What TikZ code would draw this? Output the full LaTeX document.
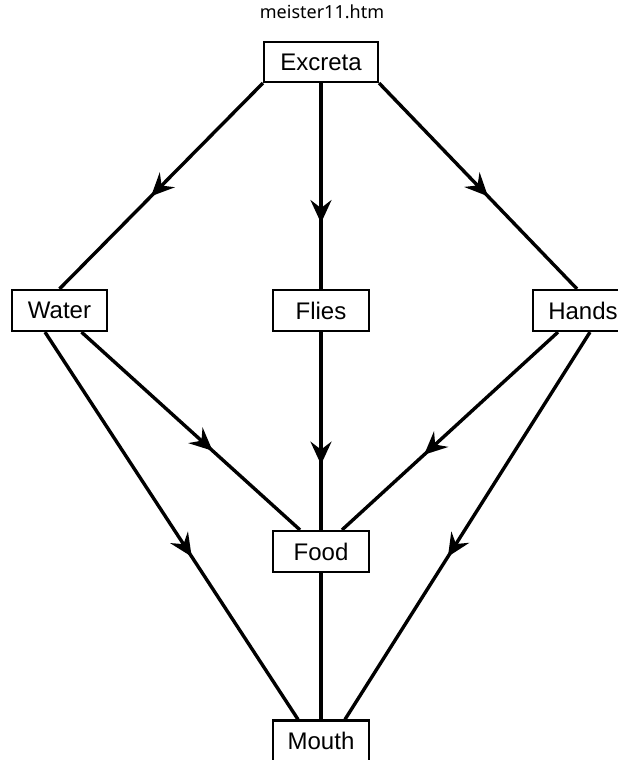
\documentclass[tikz,border=0pt]{standalone}
\usepackage{fontspec}
\setmainfont{Liberation Sans}
\newfontfamily\titlefont{Noto Sans}
\usetikzlibrary{arrows.meta,decorations.markings}
\begin{document}
\begin{tikzpicture}[x=1pt,y=-1pt,
  box/.style={draw,line width=2.2pt,rectangle,minimum height=41pt,inner sep=0pt,font=\fontsize{24}{27}\selectfont,fill=white},
  link/.style={line width=3.4pt},
  midarrow/.style={postaction={decorate,decoration={markings,mark=at position #1 with {\arrow{Stealth[length=23pt,width=21pt,inset=8pt]}}}}}
]
\useasboundingbox (0,0) rectangle (618,760);
\clip (0,0) rectangle (618,760);
\fill[white] (0,0) rectangle (618,760);
\node[font=\titlefont\fontsize{18}{21}\selectfont] (title) at (322,12) {meister11.htm};
\node[box,minimum width=114pt,minimum height=40pt] (ex) at (321,62) {Excreta};
\node[box,minimum width=95pt] (wa) at (59.5,310.5) {Water};
\node[box,minimum width=96pt] (fl) at (321,310.5) {Flies};
\node[box,minimum width=100pt] (ha) at (583,310.5) {Hands};
\node[box,minimum width=96pt] (fo) at (321,551.5) {Food};
\node[box,minimum width=96pt] (mo) at (321,741) {Mouth};
\draw[link,midarrow=0.55] (ex.south west) -- (wa.north);
\draw[link,midarrow=0.68] (ex.south) -- (fl.north);
\draw[link,midarrow=0.55] (ex.south east) -- ([xshift=-6pt]ha.north);
\draw[link,midarrow=0.6] ([xshift=22pt]wa.south) -- ([xshift=-21pt]fo.north);
\draw[link,midarrow=0.58] ([xshift=-14.5pt]wa.south) -- ([xshift=-23pt]mo.north);
\draw[link,midarrow=0.67] (fl.south) -- (fo.north);
\draw[link,midarrow=0.62] ([xshift=-25pt]ha.south) -- ([xshift=21pt]fo.north);
\draw[link,midarrow=0.58] ([xshift=7pt]ha.south) -- ([xshift=24pt]mo.north);
\draw[link] (fo.south) -- (mo.north);
\end{tikzpicture}
\end{document}
